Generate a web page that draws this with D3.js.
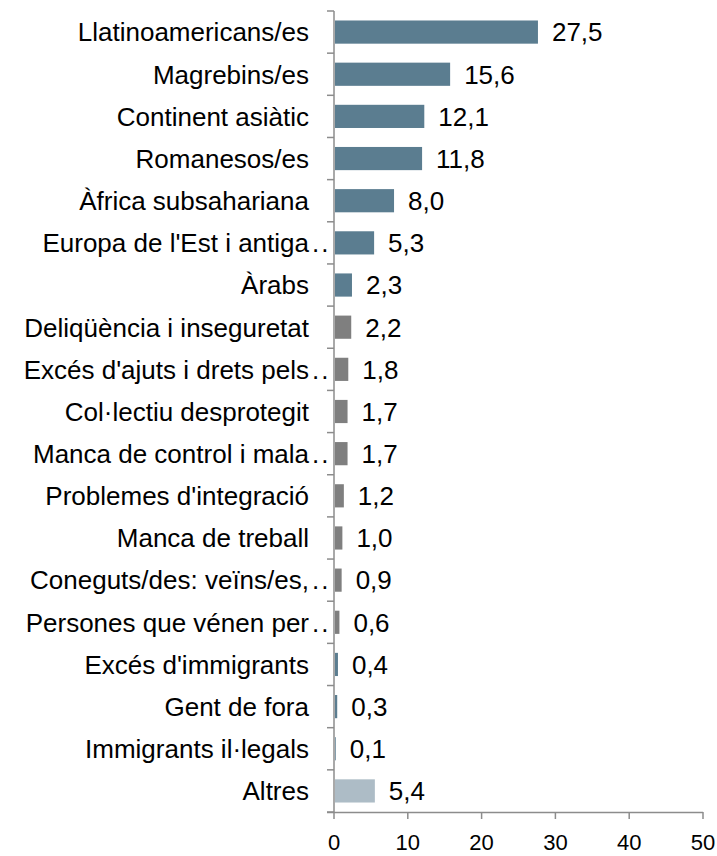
<!DOCTYPE html>
<html><head><meta charset="utf-8">
<script src="https://cdn.jsdelivr.net/npm/d3@7"></script>
<style>body{margin:0;background:#fff}svg{display:block}text{font-family:"Liberation Sans",Arial,sans-serif;fill:#000}</style>
</head><body><svg id="c" width="717" height="856"></svg>
<script>
const categories = ["Llatinoamericans/es","Magrebins/es","Continent asiàtic","Romanesos/es","Àfrica subsahariana","Europa de l'Est i antiga","Àrabs","Deliqüència i inseguretat","Excés d'ajuts i drets pels","Col·lectiu desprotegit","Manca de control i mala","Problemes d'integració","Manca de treball","Coneguts/des: veïns/es,","Persones que vénen per","Excés d'immigrants","Gent de fora","Immigrants il·legals","Altres"];
const truncated = [false,false,false,false,false,true,false,false,true,false,true,false,false,true,true,false,false,false,false];
const values = [27.5,15.6,12.1,11.8,8.0,5.3,2.3,2.2,1.8,1.7,1.7,1.2,1.0,0.9,0.6,0.4,0.3,0.1,5.4];
const groups = ["a","a","a","a","a","a","a","b","b","b","b","b","b","b","b","a","a","a","c"];
const xTicks = [0,10,20,30,40,50];
const colors = {a:"#5b7d90", b:"#7f7f7f", c:"#adbcc6"};

const svg = d3.select("#c");
const x = d3.scaleLinear().domain([0,50]).range([334,703]);
const y = d3.scaleBand().domain(categories).range([11,812]).paddingInner(0.45).paddingOuter(0.225);
const fmt = v => v.toFixed(1).replace(".", ",");

svg.selectAll("rect.bar").data(values).join("rect")
  .attr("x", x(0)+1).attr("y", (d,i)=>y(categories[i]))
  .attr("width", d=>Math.max(0, x(d)-x(0)))
  .attr("height", y.bandwidth())
  .attr("fill", (d,i)=>colors[groups[i]]);

const axisColor = "#8c8c8c";
const step = y.step();
svg.append("line").attr("x1",334).attr("x2",334).attr("y1",11).attr("y2",813).attr("stroke",axisColor).attr("stroke-width",1.5);
svg.append("line").attr("x1",327).attr("x2",703).attr("y1",812.5).attr("y2",812.5).attr("stroke",axisColor).attr("stroke-width",1.5);
d3.range(categories.length+1).forEach(i=>{
  const yy = 11 + i*step;
  svg.append("line").attr("x1",327).attr("x2",334).attr("y1",yy).attr("y2",yy).attr("stroke",axisColor).attr("stroke-width",1.5);
});
svg.selectAll("line.xt").data(xTicks).join("line")
  .attr("x1",d=>x(d)).attr("x2",d=>x(d)).attr("y1",812).attr("y2",819)
  .attr("stroke",axisColor).attr("stroke-width",1.5);
svg.selectAll("text.xt").data(xTicks).join("text")
  .attr("x",d=>x(d)).attr("y",850).attr("text-anchor","middle")
  .style("font-size","22px").text(d=>d);

categories.forEach((c,i)=>{
  const cy = y(c)+y.bandwidth()/2;
  svg.append("text").attr("x",309).attr("y",cy).attr("dy","0.36em")
    .attr("text-anchor","end").style("font-size","26px").text(c);
  if (truncated[i]) {
    svg.append("text").attr("x",312).attr("y",cy).attr("dy","0.36em")
      .style("font-size","26px").style("letter-spacing","2px").text("..");
  }
});
values.forEach((v,i)=>{
  const cy = y(categories[i])+y.bandwidth()/2;
  svg.append("text").attr("x",x(v)+15).attr("y",cy).attr("dy","0.36em")
    .style("font-size","26px").text(fmt(v));
});
</script></body></html>
